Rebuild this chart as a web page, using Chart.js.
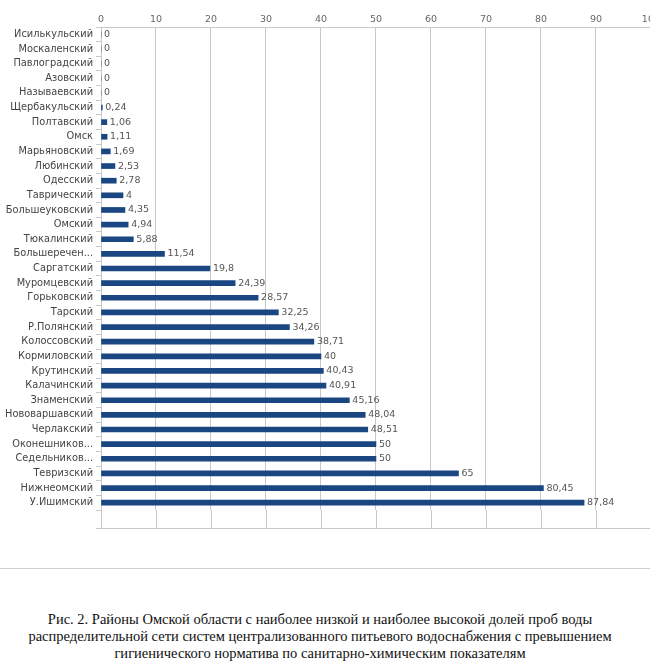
<!DOCTYPE html>
<html>
<head>
<meta charset="utf-8">
<script src="https://cdn.jsdelivr.net/npm/chart.js@4.4.0/dist/chart.umd.min.js"></script>
<style>
  html, body { margin: 0; padding: 0; background: #fff; overflow: hidden; width: 650px; height: 666px; }
  #wrap { position: absolute; left: 0; top: 0; width: 662px; height: 580px; }
  #caption { position: absolute; left: 0; top: 611px; width: 640px; text-align: center;
    font-family: "Liberation Serif", "Times New Roman", serif; font-size: 14.5px; line-height: 17px; color: #111; white-space: nowrap; }
</style>
</head>
<body>
<div id="wrap"><canvas id="c" width="662" height="580"></canvas></div>
<div id="caption">Рис. 2. Районы Омской области с наиболее низкой и наиболее высокой долей проб воды<br>распределительной сети систем централизованного питьевого водоснабжения с превышением<br>гигиенического норматива по санитарно-химическим показателям</div>
<script>
const categories = ["Исилькульский","Москаленский","Павлоградский","Азовский","Называевский","Щербакульский","Полтавский","Омск","Марьяновский","Любинский","Одесский","Таврический","Большеуковский","Омский","Тюкалинский","Большеречен...","Саргатский","Муромцевский","Горьковский","Тарский","Р.Полянский","Колоссовский","Кормиловский","Крутинский","Калачинский","Знаменский","Нововаршавский","Черлакский","Оконешников...","Седельников...","Тевризский","Нижнеомский","У.Ишимский"];
const values = [0,0,0,0,0,0.24,1.06,1.11,1.69,2.53,2.78,4,4.35,4.94,5.88,11.54,19.8,24.39,28.57,32.25,34.26,38.71,40,40.43,40.91,45.16,48.04,48.51,50,50,65,80.45,87.84];
const xTicks = [0,10,20,30,40,50,60,70,80,90,100];

const labelPlugin = {
  id: 'valueLabels',
  afterDatasetsDraw(chart) {
    const ctx = chart.ctx;
    const meta = chart.getDatasetMeta(0);
    ctx.save();
    ctx.font = '9.5px "DejaVu Sans", sans-serif';
    ctx.fillStyle = '#555';
    ctx.textBaseline = 'middle';
    ctx.textAlign = 'left';
    meta.data.forEach((bar, i) => {
      const txt = String(values[i]).replace('.', ',');
      ctx.fillText(txt, bar.x + 3, bar.y);
    });
    ctx.restore();
  },
  afterDraw(chart) {
    const ctx = chart.ctx;
    const xs = chart.scales.x;
    const area = chart.chartArea;
    const ext = 18;
    ctx.save();
    ctx.strokeStyle = '#c8c8c8';
    ctx.lineWidth = 1;
    xTicks.forEach(v => {
      const px = Math.round(xs.getPixelForValue(v)) + 0.5;
      ctx.beginPath();
      ctx.moveTo(px, area.bottom);
      ctx.lineTo(px, area.bottom + ext);
      ctx.stroke();
    });
    ctx.beginPath();
    ctx.moveTo(area.left - 5, Math.round(area.bottom + ext) + 0.5);
    ctx.lineTo(chart.width, Math.round(area.bottom + ext) + 0.5);
    ctx.stroke();
    ctx.strokeStyle = '#cfcfcf';
    ctx.beginPath();
    ctx.moveTo(0, 568.5);
    ctx.lineTo(chart.width, 568.5);
    ctx.stroke();
    ctx.restore();
  }
};

new Chart(document.getElementById('c'), {
  type: 'bar',
  data: {
    labels: categories,
    datasets: [{
      data: values,
      backgroundColor: '#1a4682',
      barThickness: 5,
      borderWidth: 0
    }]
  },
  options: {
    indexAxis: 'y',
    responsive: false,
    animation: false,
    devicePixelRatio: 1,
    layout: { padding: { left: 0, right: 9, top: 0, bottom: 70 } },
    plugins: { legend: { display: false }, tooltip: { enabled: false } },
    scales: {
      x: {
        position: 'top',
        min: 0, max: 100,
        afterFit(s) { s.height = 27; },
        ticks: { stepSize: 10, color: '#666', font: { family: '"DejaVu Sans", sans-serif', size: 9.5 }, padding: 2 },
        grid: { color: '#c8c8c8', tickLength: 0, drawTicks: false },
        border: { color: '#c8c8c8' }
      },
      y: {
        afterFit(s) { s.width = 101; },
        ticks: { color: '#444', font: { family: '"DejaVu Sans", sans-serif', size: 9.8 }, padding: 3, autoSkip: false },
        grid: { display: true, drawOnChartArea: false, tickLength: 5, color: '#c8c8c8', offset: true },
        border: { color: '#c8c8c8' }
      }
    }
  },
  plugins: [labelPlugin]
});
</script>
</body>
</html>
